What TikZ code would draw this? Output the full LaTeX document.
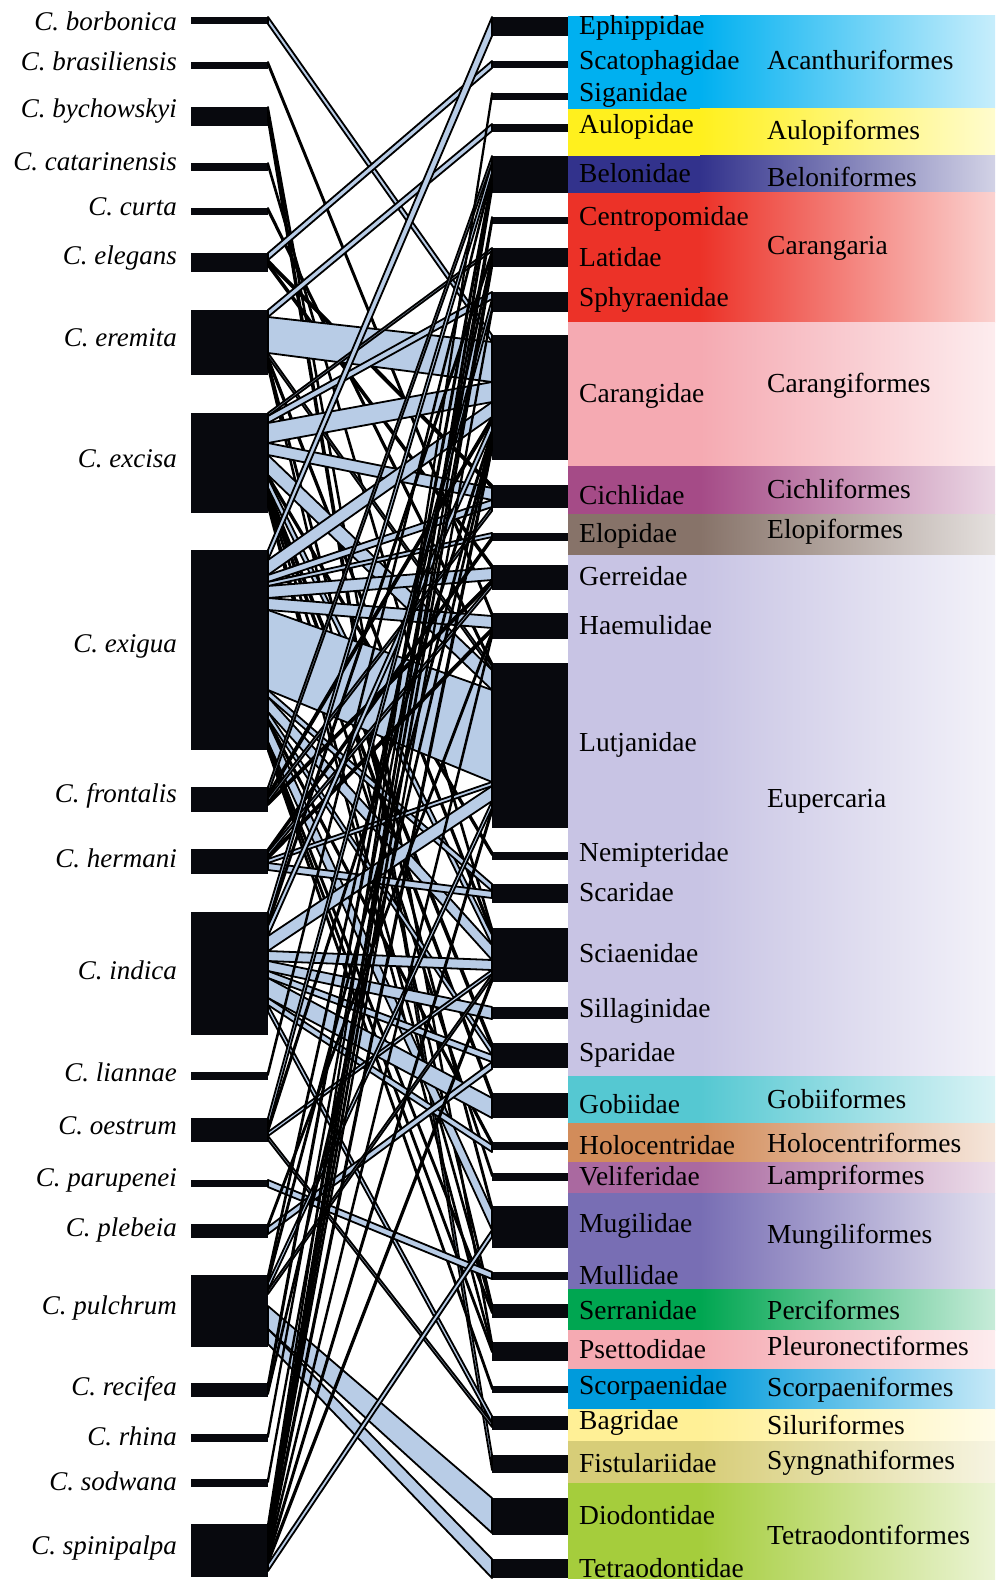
\documentclass[tikz,border=0pt]{standalone}
\usepackage{fontspec}
\setmainfont{Liberation Serif}
\usetikzlibrary{calc}
\definecolor{linkblue}{RGB}{184,204,230}
\definecolor{barblack}{RGB}{8,9,14}
\definecolor{acan}{RGB}{0,176,240}
\definecolor{aulo}{RGB}{255,240,30}
\definecolor{belo}{RGB}{50,50,140}
\definecolor{caria}{RGB}{236,50,40}
\definecolor{cfor}{RGB}{245,170,178}
\definecolor{cich}{RGB}{165,75,135}
\definecolor{elop}{RGB}{135,115,105}
\definecolor{eupe}{RGB}{200,196,228}
\definecolor{gobi}{RGB}{85,200,210}
\definecolor{holo}{RGB}{210,140,90}
\definecolor{lamp}{RGB}{170,105,160}
\definecolor{mugi}{RGB}{120,110,180}
\definecolor{perc}{RGB}{0,166,81}
\definecolor{pleu}{RGB}{245,170,178}
\definecolor{scor}{RGB}{0,155,220}
\definecolor{silu}{RGB}{255,240,150}
\definecolor{syng}{RGB}{215,205,120}
\definecolor{tetr}{RGB}{165,205,60}

% link from left bar #1 to right bar #2, widths #3 (left) and #4 (right)
\newcommand\lnk[4]{%
  \edef\lkA{\csname off@#1\endcsname}%
  \edef\rkA{\csname off@#2\endcsname}%
  \pgfmathsetmacro\lkB{\lkA+#3}%
  \pgfmathsetmacro\rkB{\rkA+#4}%
  \filldraw[link] ($(#1.north east)+(0,\lkA)$) -- ($(#2.north west)+(0,\rkA)$)
    -- ($(#2.north west)+(0,\rkB)$) -- ($(#1.north east)+(0,\lkB)$) -- cycle;
  \expandafter\xdef\csname off@#1\endcsname{\lkB}%
  \expandafter\xdef\csname off@#2\endcsname{\rkB}%
}
\newcommand\lk[3]{\lnk{#1}{#2}{#3}{#3}}
\newcommand\skipbar[2]{%
  \pgfmathsetmacro\lkB{\csname off@#1\endcsname+#2}%
  \expandafter\xdef\csname off@#1\endcsname{\lkB}%
}
\newcommand\band[3]{%
  \fill[#1] (568,#2) rectangle (701,#3);
  \shade[left color=#1,right color=#1!22] (700,#2) rectangle (995,#3);
}

\begin{document}
\begin{tikzpicture}[
  x=1pt, y=-1pt,
  lbar/.style={fill=barblack,inner sep=0pt,outer sep=0pt,anchor=north west,
               minimum width=77pt,minimum height=#1},
  rbar/.style={fill=barblack,inner sep=0pt,outer sep=0pt,anchor=north west,
               minimum width=76pt,minimum height=#1},
  link/.style={fill=linkblue,draw=black,line width=1.8pt,line join=round},
  spc/.style={anchor=east,inner sep=0pt,font=\fontsize{27}{30}\selectfont\itshape},
  fam/.style={anchor=west,inner sep=0pt,font=\fontsize{27.5}{30}\selectfont},
  ord/.style={anchor=west,inner sep=0pt,font=\fontsize{27.5}{30}\selectfont},
]
  \useasboundingbox (0,0) rectangle (997,1589);

  % Order bands
  \band{acan}{16}{109}
  \band{aulo}{109}{156}
  \band{belo}{156}{193}
  \band{caria}{193}{322}
  \band{cfor}{322}{466}
  \band{cich}{466}{514}
  \band{elop}{514}{555}
  \band{eupe}{555}{1076}
  \band{gobi}{1076}{1123}
  \band{holo}{1123}{1162}
  \band{lamp}{1162}{1193}
  \band{mugi}{1193}{1289}
  \band{perc}{1289}{1330}
  \band{pleu}{1330}{1369}
  \band{scor}{1369}{1409}
  \band{silu}{1409}{1441}
  \band{syng}{1441}{1483}
  \band{tetr}{1483}{1579}

  % Parasite bars
  \node[lbar=7]   (bor) at (191,17) {};
  \node[lbar=7]   (bra) at (191,62) {};
  \node[lbar=19]  (byc) at (191,107) {};
  \node[lbar=8]   (cat) at (191,163) {};
  \node[lbar=7]   (cur) at (191,208) {};
  \node[lbar=19]  (ele) at (191,253) {};
  \node[lbar=65]  (ere) at (191,310) {};
  \node[lbar=100] (exc) at (191,413) {};
  \node[lbar=200] (exi) at (191,550) {};
  \node[lbar=25]  (fro) at (191,787) {};
  \node[lbar=25]  (her) at (191,849) {};
  \node[lbar=123] (ind) at (191,912) {};
  \node[lbar=8]   (lia) at (191,1072) {};
  \node[lbar=24]  (oes) at (191,1118) {};
  \node[lbar=7]   (par) at (191,1180) {};
  \node[lbar=14]  (ple) at (191,1224) {};
  \node[lbar=72]  (pul) at (191,1275) {};
  \node[lbar=14]  (rec) at (191,1383) {};
  \node[lbar=8]   (rhi) at (191,1434) {};
  \node[lbar=8]   (sod) at (191,1479) {};
  \node[lbar=53]  (spi) at (191,1524) {};

  % Host family bars
  \node[rbar=19]  (eph) at (492,17) {};
  \node[rbar=7]   (sct) at (492,61) {};
  \node[rbar=7]   (sig) at (492,93) {};
  \node[rbar=8]   (aul) at (492,124) {};
  \node[rbar=37]  (bel) at (492,156) {};
  \node[rbar=7]   (cen) at (492,217) {};
  \node[rbar=19]  (lat) at (492,248) {};
  \node[rbar=20]  (sph) at (492,292) {};
  \node[rbar=125] (car) at (492,335) {};
  \node[rbar=23]  (cic) at (492,485) {};
  \node[rbar=8]   (elo) at (492,533) {};
  \node[rbar=25]  (ger) at (492,565) {};
  \node[rbar=26]  (hae) at (492,613) {};
  \node[rbar=165] (lut) at (492,663) {};
  \node[rbar=8]   (nem) at (492,852) {};
  \node[rbar=19]  (sca) at (492,884) {};
  \node[rbar=54]  (sci) at (492,928) {};
  \node[rbar=12]  (sil) at (492,1007) {};
  \node[rbar=25]  (spa) at (492,1043) {};
  \node[rbar=25]  (gob) at (492,1093) {};
  \node[rbar=8]   (hol) at (492,1142) {};
  \node[rbar=8]   (vel) at (492,1173) {};
  \node[rbar=42]  (mug) at (492,1206) {};
  \node[rbar=8]   (mul) at (492,1272) {};
  \node[rbar=14]  (ser) at (492,1304) {};
  \node[rbar=19]  (pse) at (492,1342) {};
  \node[rbar=7]   (scp) at (492,1386) {};
  \node[rbar=14]  (bag) at (492,1416) {};
  \node[rbar=18]  (fis) at (492,1455) {};
  \node[rbar=37]  (dio) at (492,1498) {};
  \node[rbar=19]  (tet) at (492,1559) {};

  \foreach \n in {bor,bra,byc,cat,cur,ele,ere,exc,exi,fro,her,ind,lia,oes,par,
                  ple,pul,rec,rhi,sod,spi,eph,sct,sig,aul,bel,cen,lat,sph,car,
                  cic,elo,ger,hae,lut,nem,sca,sci,sil,spa,gob,hol,vel,mug,mul,
                  ser,pse,scp,bag,fis,dio,tet}
    {\expandafter\xdef\csname off@\n\endcsname{0}}

  % Links
  \lk{bor}{car}{7}
  \lk{bra}{hae}{3}
  \lk{byc}{pse}{4}
  \lnk{byc}{fis}{10}{15}
  \lk{cat}{sci}{3}
  \lk{cur}{lut}{3}
  \lk{ele}{sct}{7}
  \lk{ele}{cic}{3}
  \lk{ele}{ger}{3}
  \lk{ere}{aul}{7}
  \lnk{ere}{car}{36}{40}
  \lk{ere}{lut}{4}
  \lk{ere}{sci}{4}
  \lk{ere}{mug}{4}
  \lk{ere}{ser}{3}
  \lk{exc}{lat}{3}
  \lk{exc}{sph}{7}
  \lk{exc}{car}{20}
  \lk{exc}{cic}{12}
  \lk{exc}{lut}{20}
  \lk{exc}{nem}{3}
  \lk{exc}{sci}{10}
  \lk{exc}{spa}{5}
  \lk{exc}{gob}{5}
  \lk{exc}{vel}{3}
  \lk{exc}{ser}{3}
  \lk{exc}{pse}{3}
  \lnk{exi}{eph}{10}{19}
  \lk{exi}{car}{15}
  \lk{exi}{cic}{7}
  \lk{exi}{elo}{4}
  \lk{exi}{ger}{12}
  \lk{exi}{hae}{12}
  \lnk{exi}{lut}{80}{92}
  \lk{exi}{sca}{7}
  \lk{exi}{sci}{15}
  \lk{exi}{spa}{7}
  \lk{exi}{hol}{3}
  \lk{exi}{mug}{20}
  \lk{exi}{ser}{3}
  \lk{exi}{pse}{3}
  \lk{exi}{scp}{3}
  \lk{fro}{bel}{7}
  \lk{fro}{car}{4}
  \lk{fro}{cic}{4}
  \lk{fro}{ger}{3}
  \lk{her}{elo}{3}
  \lk{her}{ger}{4}
  \lk{her}{hae}{3}
  \lk{her}{lut}{4}
  \lk{her}{sca}{7}
  \lk{ind}{bel}{10}
  \lk{ind}{lat}{4}
  \lk{ind}{car}{10}
  \lk{ind}{lut}{15}
  \lk{ind}{sci}{10}
  \lnk{ind}{sil}{10}{12}
  \lk{ind}{spa}{7}
  \lk{ind}{gob}{20}
  \lk{ind}{hol}{7}
  \lk{ind}{bag}{7}
  \lk{lia}{bel}{3}
  \lk{oes}{sph}{10}
  \lk{oes}{car}{4}
  \lk{oes}{sci}{4}
  \lk{oes}{bag}{4}
  \lk{par}{mul}{7}
  \lk{ple}{hae}{3}
  \lk{ple}{spa}{7}
  \lk{pul}{lat}{4}
  \lk{pul}{car}{4}
  \lk{pul}{lut}{7}
  \lk{pul}{sci}{4}
  \skipbar{pul}{12}
  \lnk{pul}{dio}{23}{35}
  \lnk{pul}{tet}{15}{19}
  \lk{rec}{bel}{7}
  \lk{rec}{car}{4}
  \lk{rhi}{cen}{3}
  \lk{sod}{lat}{3}
  \lk{spi}{sig}{3}
  \lk{spi}{bel}{7}
  \lk{spi}{cen}{3}
  \lk{spi}{lat}{6}
  \lk{spi}{sph}{3}
  \lk{spi}{car}{7}
  \lk{spi}{hae}{3}
  \lk{spi}{lut}{4}
  \lk{spi}{sci}{4}
  \lk{spi}{mug}{7}

  % Species names
  \node[spc] (tBor) at (177,21)   {C. borbonica};
  \node[spc] (tBra) at (177,61)   {C. brasiliensis};
  \node[spc] (tByc) at (177,111)  {C. bychowskyi};
  \node[spc] (tCat) at (177,162)  {C. catarinensis};
  \node[spc] (tCur) at (177,207)  {C. curta};
  \node[spc] (tEle) at (177,258)  {C. elegans};
  \node[spc] (tEre) at (177,338)  {C. eremita};
  \node[spc] (tExc) at (177,459)  {C. excisa};
  \node[spc] (tExi) at (177,646)  {C. exigua};
  \node[spc] (tFro) at (177,796)  {C. frontalis};
  \node[spc] (tHer) at (177,858)  {C. hermani};
  \node[spc] (tInd) at (177,970)  {C. indica};
  \node[spc] (tLia) at (177,1072) {C. liannae};
  \node[spc] (tOes) at (177,1126) {C. oestrum};
  \node[spc] (tPar) at (177,1180) {C. parupenei};
  \node[spc] (tPle) at (177,1230) {C. plebeia};
  \node[spc] (tPul) at (177,1308) {C. pulchrum};
  \node[spc] (tRec) at (177,1389) {C. recifea};
  \node[spc] (tRhi) at (177,1436) {C. rhina};
  \node[spc] (tSod) at (177,1481) {C. sodwana};
  \node[spc] (tSpi) at (177,1548) {C. spinipalpa};

  % Family names
  \node[fam] (fEph) at (579,28)   {Ephippidae};
  \node[fam] (fSct) at (579,63)   {Scatophagidae};
  \node[fam] (fSig) at (579,95)   {Siganidae};
  \node[fam] (fAul) at (579,127)  {Aulopidae};
  \node[fam] (fBel) at (579,173)  {Belonidae};
  \node[fam] (fCen) at (579,219)  {Centropomidae};
  \node[fam] (fLat) at (579,257)  {Latidae};
  \node[fam] (fSph) at (579,300)  {Sphyraenidae};
  \node[fam] (fCar) at (579,396)  {Carangidae};
  \node[fam] (fCic) at (579,495)  {Cichlidae};
  \node[fam] (fElo) at (579,536)  {Elopidae};
  \node[fam] (fGer) at (579,576)  {Gerreidae};
  \node[fam] (fHae) at (579,625)  {Haemulidae};
  \node[fam] (fLut) at (579,745)  {Lutjanidae};
  \node[fam] (fNem) at (579,855)  {Nemipteridae};
  \node[fam] (fSca) at (579,892)  {Scaridae};
  \node[fam] (fSci) at (579,953)  {Sciaenidae};
  \node[fam] (fSil) at (579,1011) {Sillaginidae};
  \node[fam] (fSpa) at (579,1055) {Sparidae};
  \node[fam] (fGob) at (579,1104) {Gobiidae};
  \node[fam] (fHol) at (579,1145) {Holocentridae};
  \node[fam] (fVel) at (579,1176) {Veliferidae};
  \node[fam] (fMug) at (579,1226) {Mugilidae};
  \node[fam] (fMul) at (579,1275) {Mullidae};
  \node[fam] (fSer) at (579,1310) {Serranidae};
  \node[fam] (fPse) at (579,1349) {Psettodidae};
  \node[fam] (fScp) at (579,1388) {Scorpaenidae};
  \node[fam] (fBag) at (579,1423) {Bagridae};
  \node[fam] (fFis) at (579,1463) {Fistulariidae};
  \node[fam] (fDio) at (579,1515) {Diodontidae};
  \node[fam] (fTet) at (579,1568) {Tetraodontidae};

  % Order names
  \node[ord] (oAca) at (767,60)   {Acanthuriformes};
  \node[ord] (oAul) at (767,133)  {Aulopiformes};
  \node[ord] (oBel) at (767,177)  {Beloniformes};
  \node[ord] (oCaa) at (767,248)  {Carangaria};
  \node[ord] (oCar) at (767,386)  {Carangiformes};
  \node[ord] (oCic) at (767,489)  {Cichliformes};
  \node[ord] (oElo) at (767,532)  {Elopiformes};
  \node[ord] (oEup) at (767,801)  {Eupercaria};
  \node[ord] (oGob) at (767,1099) {Gobiiformes};
  \node[ord] (oHol) at (767,1143) {Holocentriformes};
  \node[ord] (oLam) at (767,1178) {Lampriformes};
  \node[ord] (oMug) at (767,1237) {Mungiliformes};
  \node[ord] (oPer) at (767,1310) {Perciformes};
  \node[ord] (oPle) at (767,1346) {Pleuronectiformes};
  \node[ord] (oSco) at (767,1390) {Scorpaeniformes};
  \node[ord] (oSil) at (767,1425) {Siluriformes};
  \node[ord] (oSyn) at (767,1463) {Syngnathiformes};
  \node[ord] (oTet) at (767,1535) {Tetraodontiformes};
\end{tikzpicture}
\end{document}
